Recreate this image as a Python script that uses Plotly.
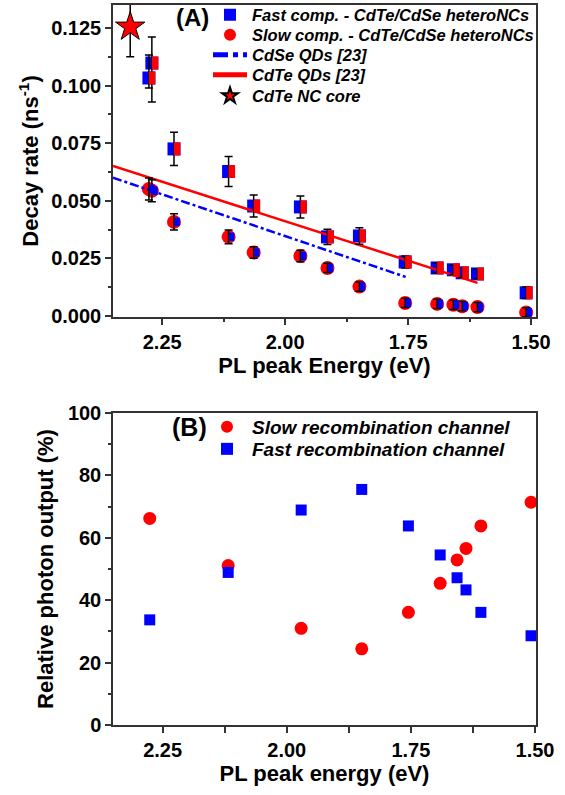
import plotly.graph_objects as go

# ---------- Panel A data ----------
fast_E = [2.277, 2.271, 2.226, 2.115, 2.064, 1.969, 1.914, 1.849, 1.756, 1.691, 1.658, 1.640, 1.609, 1.510]
fast_rate = [0.1033, 0.1098, 0.0725, 0.0627, 0.0477, 0.0473, 0.0343, 0.0347, 0.0234, 0.0208, 0.0200, 0.0187, 0.0182, 0.0100]
fast_err_plus = [0.0100, 0.0113, 0.0072, 0.0065, 0.0048, 0.0048, 0.0033, 0.0036, 0.0026, 0.0022, 0.0020, 0.0020, 0.0020, 0.0025]
fast_err_minus = [0.0043, 0.0169, 0.0072, 0.0065, 0.0048, 0.0048, 0.0033, 0.0036, 0.0026, 0.0022, 0.0020, 0.0020, 0.0020, 0.0025]

slow_E = [2.277, 2.271, 2.226, 2.115, 2.064, 1.969, 1.914, 1.849, 1.756, 1.691, 1.658, 1.640, 1.609, 1.510]
slow_rate = [0.0551, 0.0543, 0.0408, 0.0343, 0.0275, 0.0260, 0.0208, 0.0127, 0.0056, 0.0052, 0.0048, 0.0042, 0.0038, 0.0015]
slow_err = [0.0048, 0.0048, 0.0035, 0.0030, 0.0025, 0.0025, 0.0020, 0.0020, 0.0020, 0.0020, 0.0020, 0.0020, 0.0020, 0.0020]

cdse_E = [2.35, 1.755]
cdse_rate = [0.0600, 0.0169]
cdte_E = [2.35, 1.609]
cdte_rate = [0.0651, 0.0143]

core_E = [2.315]
core_rate = [0.1255]
core_err = [0.0130]

# ---------- Panel B data ----------
b_E = [2.276, 2.118, 1.971, 1.849, 1.755, 1.691, 1.657, 1.639, 1.609, 1.508]
b_slow = [66.2, 51.1, 31.0, 24.4, 36.1, 45.4, 52.9, 56.6, 63.8, 71.4]
b_fast = [33.7, 48.9, 68.9, 75.5, 63.8, 54.5, 47.2, 43.3, 36.1, 28.6]

FONT = "Liberation Sans"
BLUE = "#0000FF"
RED = "#FF0000"

# layout geometry (pixels)
W, H = 565, 795
ML, MR, MT, MB = 113, 29, 5, 70
PW = W - ML - MR
PH = H - MT - MB
X_RANGE_A = [2.35, 1.49]
HALF_SHIFT_PX = 3.2  # right-half overlay offset in pixels
shift = HALF_SHIFT_PX * (X_RANGE_A[0] - X_RANGE_A[1]) / PW


def py(p):
    return (H - MB - p) / PH


def px(p):
    return (p - ML) / PW


fig = go.Figure()

# Panel A: base markers
fig.add_trace(go.Scatter(
    x=fast_E, y=fast_rate, mode="markers", name="Fast comp. - CdTe/CdSe heteroNCs",
    marker=dict(symbol="square", size=13, color=BLUE, line=dict(width=0)),
    xaxis="x", yaxis="y", legend="legend"))
fig.add_trace(go.Scatter(
    x=fast_E, y=fast_rate, mode="markers", showlegend=False, hoverinfo="skip",
    marker=dict(symbol="line-ns", size=13 / 1.4, color=RED, line=dict(width=6.4, color=RED)),
    xaxis="x3", yaxis="y"))
fig.add_trace(go.Scatter(
    x=slow_E, y=slow_rate, mode="markers", name="Slow comp. - CdTe/CdSe heteroNCs",
    marker=dict(symbol="circle", size=14, color=RED, line=dict(width=0)),
    xaxis="x", yaxis="y", legend="legend2"))
fig.add_trace(go.Scatter(
    x=slow_E, y=slow_rate, mode="markers", showlegend=False, hoverinfo="skip",
    marker=dict(symbol="line-ns", size=8.5 / 1.4, color=BLUE, line=dict(width=5.2, color=BLUE)),
    xaxis="x3", yaxis="y"))
fig.add_trace(go.Scatter(
    x=cdse_E, y=cdse_rate, mode="lines", name="CdSe QDs [23]",
    line=dict(color=BLUE, width=2.5, dash="dashdot"),
    xaxis="x", yaxis="y", legend="legend3"))
fig.add_trace(go.Scatter(
    x=cdte_E, y=cdte_rate, mode="lines", name="CdTe QDs [23]",
    line=dict(color=RED, width=2.5),
    xaxis="x", yaxis="y", legend="legend4"))
fig.add_trace(go.Scatter(
    x=core_E, y=core_rate, mode="markers", name="CdTe NC core",
    marker=dict(symbol="star", size=22, color=RED, line=dict(color="black", width=1)),
    error_y=dict(type="data", array=core_err, color="black", thickness=1.5, width=4),
    xaxis="x", yaxis="y", legend="legend5"))

# error bars drawn on top of the markers
fig.add_trace(go.Scatter(
    x=fast_E, y=fast_rate, mode="markers", showlegend=False, hoverinfo="skip",
    marker=dict(size=1, color="rgba(0,0,0,0)"),
    error_y=dict(type="data", array=fast_err_plus, arrayminus=fast_err_minus,
                 color="black", thickness=1.5, width=4),
    xaxis="x", yaxis="y"))
fig.add_trace(go.Scatter(
    x=slow_E, y=slow_rate, mode="markers", showlegend=False, hoverinfo="skip",
    marker=dict(size=1, color="rgba(0,0,0,0)"),
    error_y=dict(type="data", array=slow_err, color="black", thickness=1.5, width=4),
    xaxis="x", yaxis="y"))

# Panel B traces
fig.add_trace(go.Scatter(
    x=b_E, y=b_slow, mode="markers", name="Slow recombination channel",
    marker=dict(symbol="circle", size=13, color=RED),
    xaxis="x2", yaxis="y2", legend="legend6"))
fig.add_trace(go.Scatter(
    x=b_E, y=b_fast, mode="markers", name="Fast recombination channel",
    marker=dict(symbol="square", size=11, color=BLUE),
    xaxis="x2", yaxis="y2", legend="legend7"))

axis_common = dict(
    showline=True, mirror=True, linecolor="#333333", linewidth=1.5,
    ticks="outside", ticklen=6, tickwidth=1.5, tickcolor="#333333",
    showgrid=False, zeroline=False,
    tickfont=dict(family=FONT, size=20, color="black", weight="bold"),
)

top_dom = [py(317), 1.0]
bot_dom = [0.0, py(413)]

legA_font = dict(family=FONT, size=16.5, weight="bold", style="italic", color="black")
legB_font = dict(family=FONT, size=19, weight="bold", style="italic", color="black")


def leg(xp, yp, font, iw):
    return dict(x=px(xp), y=py(yp), xanchor="left", yanchor="middle",
                bgcolor="rgba(0,0,0,0)", borderwidth=0, font=font,
                itemwidth=iw, itemsizing="constant")


fig.update_layout(
    width=W, height=H,
    margin=dict(l=ML, r=MR, t=MT, b=MB, autoexpand=False),
    plot_bgcolor="white", paper_bgcolor="white",
    font=dict(family=FONT, color="black"),
    xaxis=dict(axis_common, domain=[0, 1], anchor="y", range=X_RANGE_A,
               tick0=1.5, dtick=0.25, tickformat=".2f",
               minor=dict(dtick=0.125, ticks="outside", ticklen=3, tickcolor="#333333"),
               title=dict(text="PL peak Energy (eV)", standoff=3,
                          font=dict(family=FONT, size=22, weight="bold"))),
    xaxis3=dict(overlaying="x", anchor="y", visible=False,
                range=[X_RANGE_A[0] + shift, X_RANGE_A[1] + shift]),
    yaxis=dict(axis_common, domain=top_dom, anchor="x", range=[-0.0005, 0.135],
               tick0=0, dtick=0.025, tickformat=".3f",
               minor=dict(dtick=0.0125, ticks="outside", ticklen=3, tickcolor="#333333"),
               title=dict(text="Decay rate (ns<sup>-1</sup>)", standoff=6,
                          font=dict(family=FONT, size=22, weight="bold"))),
    xaxis2=dict(axis_common, domain=[0, 1], anchor="y2", range=[2.35, 1.498],
                tick0=1.5, dtick=0.25, tickformat=".2f",
                minor=dict(dtick=0.125, ticks="outside", ticklen=6, tickcolor="#333333"),
                title=dict(text="PL peak energy (eV)", standoff=3,
                           font=dict(family=FONT, size=22, weight="bold"))),
    yaxis2=dict(axis_common, domain=bot_dom, anchor="x2", range=[0, 100],
                tick0=0, dtick=20,
                minor=dict(dtick=10, ticks="outside", ticklen=3, tickcolor="#333333"),
                title=dict(text="Relative photon output (%)", standoff=8,
                           font=dict(family=FONT, size=22, weight="bold"))),
    legend=leg(208, 15, legA_font, 34),
    legend2=leg(208, 35, legA_font, 34),
    legend3=leg(208, 55, legA_font, 34),
    legend4=leg(208, 75, legA_font, 34),
    legend5=leg(208, 96, legA_font, 34),
    legend6=leg(202, 427, legB_font, 40),
    legend7=leg(202, 449, legB_font, 40),
    showlegend=True,
    annotations=[
        dict(text="(A)", x=px(192), y=py(17), xref="paper", yref="paper",
             xanchor="center", yanchor="middle",
             showarrow=False, font=dict(family=FONT, size=24, weight="bold")),
        dict(text="(B)", x=px(189), y=py(427), xref="paper", yref="paper",
             xanchor="center", yanchor="middle",
             showarrow=False, font=dict(family=FONT, size=25, weight="bold")),
    ],
)

fig.write_html(
    "out.html",
    config={"displayModeBar": False},
    post_script=(
        "document.documentElement.style.margin='0';"
        "document.documentElement.style.overflow='hidden';"
        "document.body.style.margin='0';document.body.style.padding='0';"
        "var gd=document.getElementsByClassName('plotly-graph-div')[0];"
        "gd.style.position='fixed';gd.style.top='0px';gd.style.left='0px';"
    ),
)
